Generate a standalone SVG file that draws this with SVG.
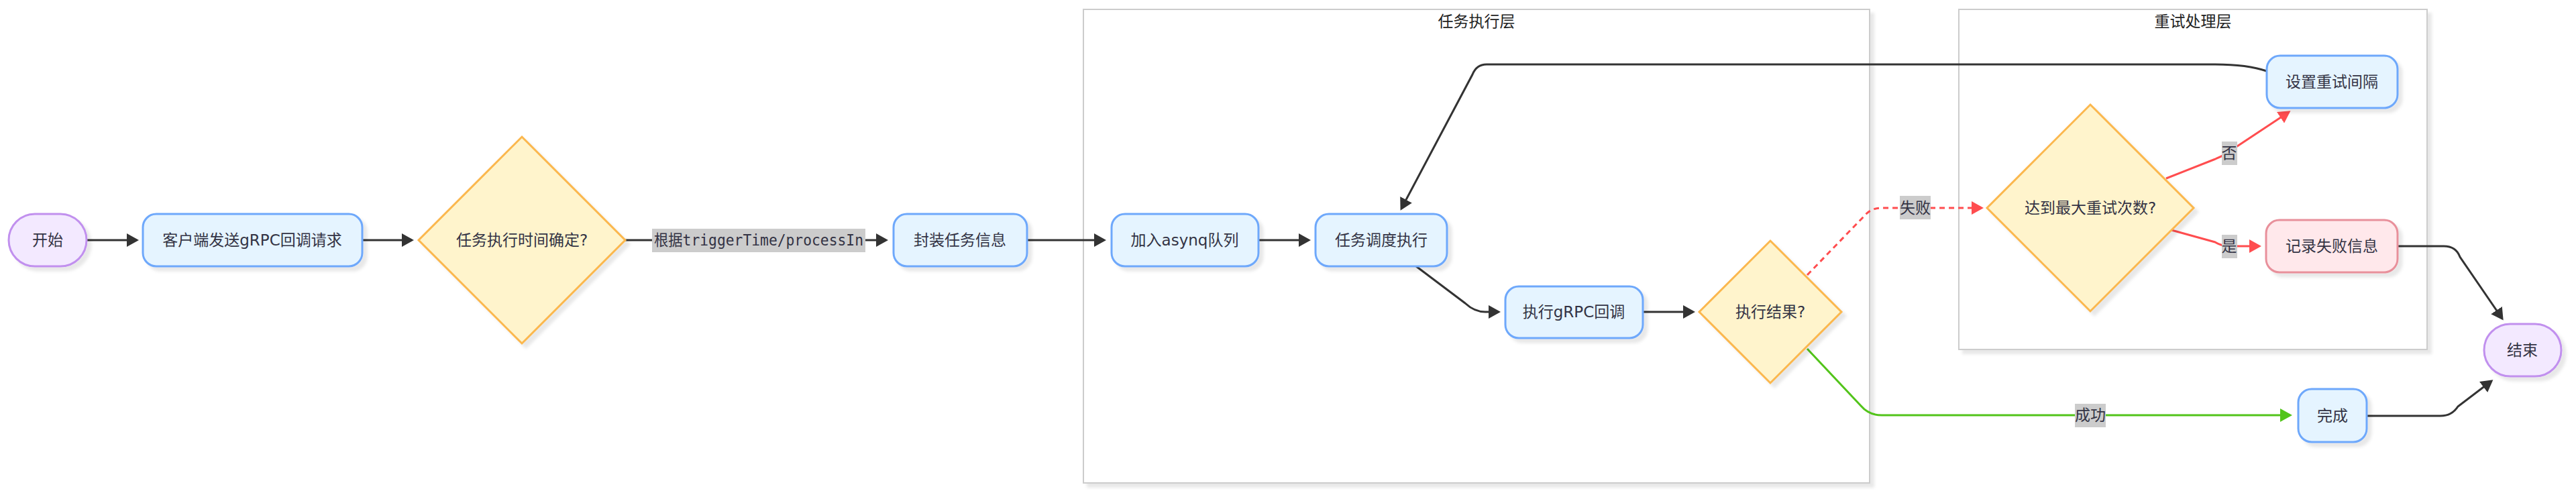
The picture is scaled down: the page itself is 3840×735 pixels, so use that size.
<svg xmlns="http://www.w3.org/2000/svg" width="3840" height="735" viewBox="0 0 3840 735">
<style>
  .bg{fill:#ffffff}
  .cluster{fill:#ffffff;stroke:#cccccc;stroke-width:2;filter:url(#shadow)}
  .ctitle{font-family:"DejaVu Sans","Noto Sans CJK SC",sans-serif;font-size:23px;fill:#222;text-anchor:middle;dominant-baseline:central}
  .box{fill:#e5f4ff;stroke:#6ea8fb;stroke-width:3;filter:url(#shadow)}
  .term{fill:#f3e9ff;stroke:#c190ee;stroke-width:3;filter:url(#shadow)}
  .dec{fill:#fff4cc;stroke:#fbb74e;stroke-width:3;filter:url(#shadow)}
  .err{fill:#ffe8eb;stroke:#e8909b;stroke-width:3;filter:url(#shadow)}
  .lbl{font-family:"DejaVu Sans","Noto Sans CJK SC",sans-serif;font-size:23px;fill:#333344;text-anchor:middle;dominant-baseline:central}
  .elbl{font-family:"DejaVu Sans Mono","Noto Sans CJK SC",monospace;font-size:23px;fill:#333344;text-anchor:middle;dominant-baseline:central}
  .lblbg{fill:#cccccc}
  .e{fill:none;stroke:#333333;stroke-width:3}
  .er{fill:none;stroke:#ff4d4f;stroke-width:3}
  .eg{fill:none;stroke:#52c41a;stroke-width:3}
  .dash{stroke-dasharray:8 6}
</style>
<defs>
  <filter id="shadow" x="-10%" y="-10%" width="130%" height="130%">
    <feDropShadow dx="6" dy="6" stdDeviation="2" flood-color="#000000" flood-opacity="0.09"/>
  </filter>
  <marker id="ab" viewBox="0 0 18 20" markerWidth="18" markerHeight="20" refX="15" refY="10" orient="auto" markerUnits="userSpaceOnUse">
    <path d="M0,0 L18,10 L0,20 z" fill="#333333"/>
  </marker>
  <marker id="ar" viewBox="0 0 18 20" markerWidth="18" markerHeight="20" refX="15" refY="10" orient="auto" markerUnits="userSpaceOnUse">
    <path d="M0,0 L18,10 L0,20 z" fill="#ff4d4f"/>
  </marker>
  <marker id="ag" viewBox="0 0 18 20" markerWidth="18" markerHeight="20" refX="15" refY="10" orient="auto" markerUnits="userSpaceOnUse">
    <path d="M0,0 L18,10 L0,20 z" fill="#52c41a"/>
  </marker>
</defs>
<rect class="bg" x="0" y="0" width="3840" height="735"/>

<g id="cluster-exec">
  <rect class="cluster" x="1615" y="14" width="1172" height="706"/>
  <text class="ctitle" x="2201" y="32">任务执行层</text>
</g>
<g id="cluster-retry">
  <rect class="cluster" x="2920" y="14" width="698" height="507"/>
  <text class="ctitle" x="3269" y="32">重试处理层</text>
</g>

<g id="connectors">
  <path class="e" d="M129,358 L204,358" marker-end="url(#ab)"/>
  <path class="e" d="M540,358 L614,358" marker-end="url(#ab)"/>
  <path class="e" d="M932,358 L1321,358" marker-end="url(#ab)"/>
  <path class="e" d="M1531,358 L1646,358" marker-end="url(#ab)"/>
  <path class="e" d="M1876,358 L1951,358" marker-end="url(#ab)"/>
  <path class="e" d="M2111,397 L2184,452 Q2198,465 2214,465 L2234,465" marker-end="url(#ab)"/>
  <path class="e" d="M2449,465 L2524,465" marker-end="url(#ab)"/>
  <path class="er dash" d="M2694,410 L2779,322 Q2789,310 2805,310 L2954,310" marker-end="url(#ar)"/>
  <path class="eg" d="M2694,520 L2774,605 Q2786,619 2805,619 L3414,619" marker-end="url(#ag)"/>
  <path class="er" d="M3229,266 L3300,238 Q3318,231 3332,220 L3412,167" marker-end="url(#ar)"/>
  <path class="er" d="M3237,343 L3302,361 Q3312,367 3322,367 L3368,367" marker-end="url(#ar)"/>
  <path class="e" d="M3379,106 Q3350,96 3300,96 L2216,96 Q2201,96 2195,111 L2089,311" marker-end="url(#ab)"/>
  <path class="e" d="M3575,367 L3643,367 Q3661,367 3667,383 L3730,475" marker-end="url(#ab)"/>
  <path class="e" d="M3528,620 L3638,620 Q3655,620 3664,606 L3714,568" marker-end="url(#ab)"/>
  <g id="edge-labels">
    <rect class="lblbg" x="972" y="341" width="318" height="35"/>
    <text class="elbl" x="1131" y="358" textLength="312" lengthAdjust="spacingAndGlyphs">根据triggerTime/processIn</text>
    <rect class="lblbg" x="2832" y="292" width="46" height="35"/>
    <text class="lbl" x="2855" y="310">失败</text>
    <rect class="lblbg" x="3093" y="602" width="46" height="35"/>
    <text class="lbl" x="3116" y="619">成功</text>
    <rect class="lblbg" x="3312" y="211" width="23" height="35"/>
    <text class="lbl" x="3323" y="228">否</text>
    <rect class="lblbg" x="3312" y="350" width="23" height="35"/>
    <text class="lbl" x="3323" y="367">是</text>
  </g>
</g>

<g id="node-start">
  <rect class="term" x="13" y="319" width="116" height="78" rx="39"/>
  <text class="lbl" x="71" y="358">开始</text>
</g>
<g id="node-client">
  <rect class="box" x="213" y="319" width="327" height="78" rx="20"/>
  <text class="lbl" x="376" y="358">客户端发送gRPC回调请求</text>
</g>
<g id="node-timecheck">
  <polygon class="dec" points="778,204 932,358 778,512 624,358"/>
  <text class="lbl" x="778" y="358">任务执行时间确定?</text>
</g>
<g id="node-pack">
  <rect class="box" x="1332" y="319" width="199" height="78" rx="20"/>
  <text class="lbl" x="1431" y="358">封装任务信息</text>
</g>
<g id="node-enqueue">
  <rect class="box" x="1657" y="319" width="219" height="78" rx="20"/>
  <text class="lbl" x="1766" y="358">加入asynq队列</text>
</g>
<g id="node-schedule">
  <rect class="box" x="1961" y="319" width="196" height="78" rx="20"/>
  <text class="lbl" x="2059" y="358">任务调度执行</text>
</g>
<g id="node-exec">
  <rect class="box" x="2244" y="427" width="205" height="77" rx="20"/>
  <text class="lbl" x="2346" y="465">执行gRPC回调</text>
</g>
<g id="node-result">
  <polygon class="dec" points="2639,359 2745,465 2639,571 2533,465"/>
  <text class="lbl" x="2639" y="465">执行结果?</text>
</g>
<g id="node-maxretry">
  <polygon class="dec" points="3116,156 3270,310 3116,464 2962,310"/>
  <text class="lbl" x="3116" y="310">达到最大重试次数?</text>
</g>
<g id="node-interval">
  <rect class="box" x="3379" y="83" width="195" height="78" rx="20"/>
  <text class="lbl" x="3476" y="122">设置重试间隔</text>
</g>
<g id="node-record">
  <rect class="err" x="3378" y="328" width="196" height="78" rx="20"/>
  <text class="lbl" x="3476" y="367">记录失败信息</text>
</g>
<g id="node-done">
  <rect class="box" x="3426" y="580" width="102" height="79" rx="20"/>
  <text class="lbl" x="3477" y="620">完成</text>
</g>
<g id="node-end">
  <rect class="term" x="3703" y="483" width="115" height="78" rx="39"/>
  <text class="lbl" x="3760" y="522">结束</text>
</g>
</svg>
